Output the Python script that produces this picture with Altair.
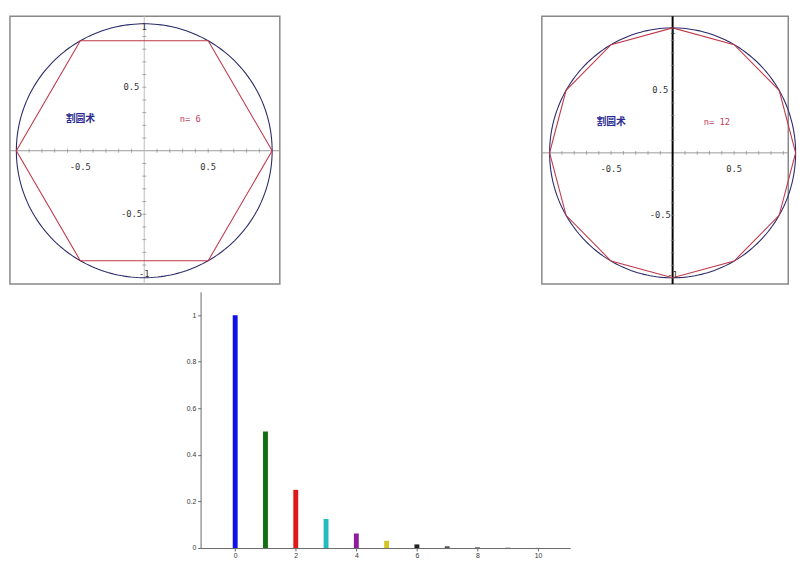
import altair as alt
import numpy as np
import pandas as pd

# ---- data ----
sides = [6, 12]                       # polygon side counts for the two panels
panel_title = "割圆术"
panel_labels = ["n= 6", "n= 12"]
bar_x = [0, 1, 2, 3, 4, 5, 6, 7, 8, 9, 10]
bar_y = [1.0, 0.5, 0.25, 0.125, 0.0625, 0.03125, 0.0156, 0.0078, 0.0039, 0.002, 0.001]
bar_colors = ["#1010e8", "#127012", "#e01818", "#22bcbc", "#8e1c9c", "#d4c428",
              "#222222", "#555555", "#777777", "#888888", "#999999"]


def circle_panel(n, label, width, height, xdom, ydom, yaxis_color, yaxis_width):
    t = np.linspace(0, 2 * np.pi, 241)
    circ = pd.DataFrame({"x": np.cos(t), "y": np.sin(t), "o": np.arange(len(t))})
    k = np.arange(n + 1)
    poly = pd.DataFrame({"x": np.cos(2 * np.pi * k / n), "y": np.sin(2 * np.pi * k / n), "o": k})
    xs = alt.Scale(domain=xdom, nice=False, zero=False)
    ys = alt.Scale(domain=ydom, nice=False, zero=False)
    X = alt.X("x:Q", scale=xs, axis=None)
    Y = alt.Y("y:Q", scale=ys, axis=None)

    base_circ = alt.Chart(circ).mark_line(color="#2a2a6a", strokeWidth=1.1).encode(X, Y, order="o:Q")
    base_poly = alt.Chart(poly).mark_line(color="#c0384a", strokeWidth=1.1).encode(X, Y, order="o:Q")

    hax = alt.Chart(pd.DataFrame({"x": [xdom[0]], "x2": [xdom[1]], "y": [0]})).mark_rule(
        color="#999999", strokeWidth=1).encode(X, x2="x2:Q", y=Y)
    vax = alt.Chart(pd.DataFrame({"x": [0], "y": [ydom[0]], "y2": [ydom[1]]})).mark_rule(
        color=yaxis_color, strokeWidth=yaxis_width).encode(X, Y, y2="y2:Q")

    tick_vals = [round(v, 1) for v in np.arange(-0.9, 0.91, 0.1) if abs(v) > 1e-9]
    xt = alt.Chart(pd.DataFrame({"x": tick_vals, "y": [0] * len(tick_vals)})).mark_tick(
        orient="vertical", size=4, color="#888888", thickness=1).encode(X, Y)
    yt = alt.Chart(pd.DataFrame({"x": [0] * len(tick_vals), "y": tick_vals})).mark_tick(
        orient="horizontal", size=4, color="#888888", thickness=1).encode(X, Y)

    lab = pd.DataFrame({
        "x": [-0.5, 0.5, -0.1, -0.1, 0.0, 0.0],
        "y": [-0.13, -0.13, 0.5, -0.5, 0.975, -0.975],
        "t": ["-0.5", "0.5", "0.5", "-0.5", "1", "-1"],
    })
    labs = alt.Chart(lab).mark_text(font="DejaVu Sans Mono", fontSize=9, color="#333333").encode(
        X, Y, text="t:N")

    t1 = alt.Chart(pd.DataFrame({"x": [-0.5], "y": [0.25], "t": [panel_title]})).mark_text(
        font="Noto Sans CJK SC", fontSize=10, fontWeight="bold", color="#2a2a90").encode(X, Y, text="t:N")
    t2 = alt.Chart(pd.DataFrame({"x": [0.36], "y": [0.25], "t": [label]})).mark_text(
        font="DejaVu Sans Mono", fontSize=9, color="#c04060").encode(X, Y, text="t:N")

    return alt.layer(hax, vax, xt, yt, base_circ, base_poly, labs, t1, t2).properties(
        width=width, height=height, view=alt.ViewBackground(stroke="#888888", strokeWidth=1.5))


left = circle_panel(sides[0], panel_labels[0], 276, 274, [-1.05, 1.06], [-1.05, 1.06], "#bbbbbb", 1)
right = circle_panel(sides[1], panel_labels[1], 252, 274, [-1.063, 0.94], [-1.05, 1.094], "#000000", 2)

top = alt.hconcat(left, right, spacing=264)

bdf = pd.DataFrame({"x": bar_x, "y": bar_y, "c": bar_colors})
bars = alt.Chart(bdf).mark_bar(size=5).encode(
    x=alt.X("x:Q", scale=alt.Scale(domain=[-0.98, 10.9], nice=False),
            axis=alt.Axis(values=[0, 2, 4, 6, 8, 10], title=None, grid=False, labelFontSize=7,
                          tickSize=3, labelPadding=1, domainColor="#666666", tickColor="#666666",
                          labelColor="#333333")),
    y=alt.Y("y:Q", scale=alt.Scale(domain=[0, 1.1], nice=False),
            axis=alt.Axis(values=[0, 0.2, 0.4, 0.6, 0.8, 1], format="~g", title=None, grid=False,
                          labelFontSize=7, tickSize=3, domainColor="#666666", tickColor="#666666",
                          labelColor="#333333")),
    color=alt.Color("c:N", scale=None),
).properties(width=378, height=262, view=alt.ViewBackground(stroke=None))

spacer = alt.Chart(pd.DataFrame({"a": [0]})).mark_point(opacity=0).encode(
    x=alt.X("a:Q", axis=None), y=alt.Y("a:Q", axis=None)
).properties(width=180, height=10, view=alt.ViewBackground(stroke=None))

bottom = alt.hconcat(spacer, bars, spacing=0)

chart = alt.vconcat(top, bottom, spacing=6).properties(padding=0).configure_view(stroke=None)

chart.save("out.html", embed_options={"renderer": "svg", "actions": False})
